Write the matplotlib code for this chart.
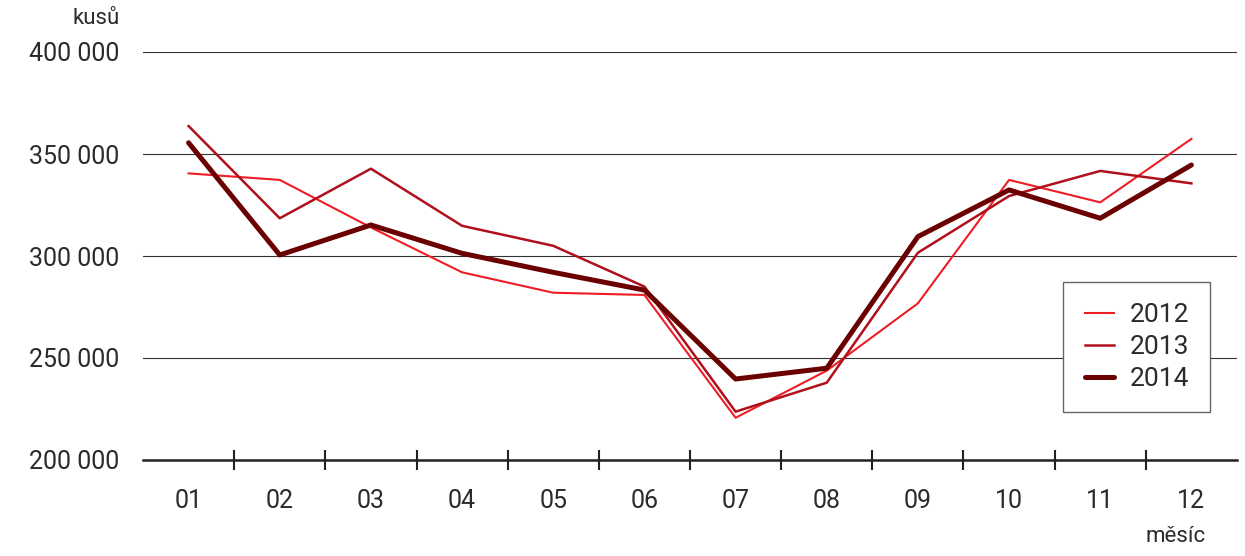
import numpy as np
import matplotlib
matplotlib.use("Agg")
import matplotlib.pyplot as plt
from matplotlib.ticker import FuncFormatter

plt.rcParams['font.family'] = ['Roboto', 'DejaVu Sans']

months = ["01", "02", "03", "04", "05", "06", "07", "08", "09", "10", "11", "12"]
y2012 = [340500, 337300, 314000, 292000, 282000, 280900, 220700, 243800, 276800, 337300, 326300, 357400]
y2013 = [363700, 318500, 342800, 314800, 305000, 285000, 223700, 237900, 301600, 329400, 341700, 335600]
y2014 = [355500, 300500, 315200, 301300, 292000, 283300, 239700, 245000, 309500, 332400, 318500, 344600]

x = np.arange(1, len(months) + 1)
txt = "#2b2b2b"

fig = plt.figure(figsize=(12.45, 5.56), dpi=100)
ax = fig.add_axes([143/1245, 1-460/556, 1094/1245, 408/556])

ax.plot(x, y2012, color="#ee1c25", lw=1.5, label="2012", zorder=3)
ax.plot(x, y2013, color="#b0101c", lw=1.8, label="2013", zorder=4)
ax.plot(x, y2014, color="#6b0000", lw=3.6, label="2014", zorder=5, solid_capstyle="round")

ax.set_xlim(0.5, 12.5)
ax.set_ylim(200000, 400000)
ax.set_yticks([200000, 250000, 300000, 350000, 400000])
ax.yaxis.set_major_formatter(FuncFormatter(lambda v, p: f"{int(v):,}".replace(",", " ")))
ax.grid(axis="y", color="#333333", lw=0.8)
ax.set_axisbelow(True)

ax.set_xticks(x)
ax.set_xticklabels(months)
ax.set_xticks(np.arange(1.5, 12, 1), minor=True)
ax.tick_params(axis="x", which="major", length=0, pad=21, labelsize=18, labelcolor=txt)
ax.tick_params(axis="x", which="minor", direction="inout", length=14, width=1.5, color="#222222")
ax.tick_params(axis="y", length=0, pad=17, labelsize=18, labelcolor=txt)

for s in ["top", "right", "left"]:
    ax.spines[s].set_visible(False)
ax.spines["bottom"].set_linewidth(1.8)
ax.spines["bottom"].set_color("#222222")

fig.text(120/1245, 1-18/556, "kusů", ha="right", va="center", fontsize=16, color=txt)
fig.text(1206/1245, 1-537/556, "měsíc", ha="right", va="center", fontsize=16, color=txt)

leg = ax.legend(loc="upper right", bbox_to_anchor=(0.9753, 0.436), fontsize=19,
                handlelength=1.1, handletextpad=0.6, labelspacing=0.3,
                borderpad=0.8, borderaxespad=0, fancybox=False, framealpha=1)
leg.get_frame().set_edgecolor("#666666")
leg.get_frame().set_linewidth(1.0)
for t in leg.get_texts():
    t.set_color(txt)

fig.savefig("out.png", dpi=100)
